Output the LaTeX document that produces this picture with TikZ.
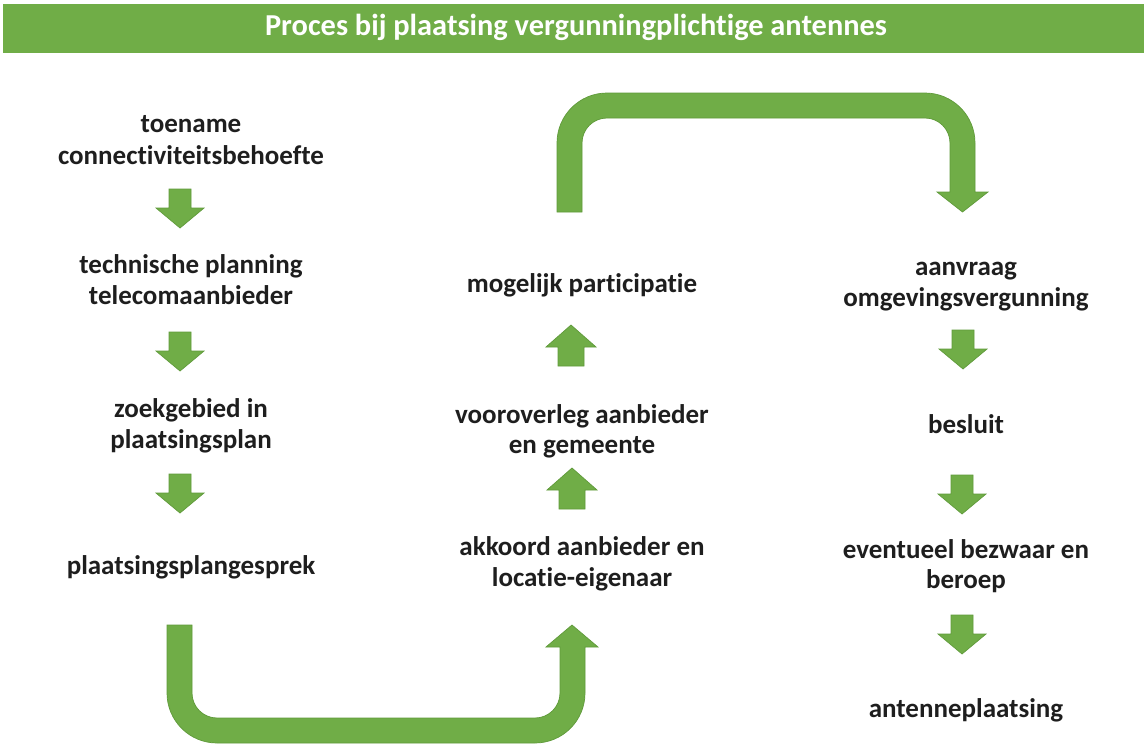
\documentclass[tikz,border=0pt]{standalone}
\usepackage{fontspec}
\setmainfont{Carlito}[Ligatures={NoCommon,NoRare}]
\definecolor{grn}{HTML}{70AD47}
\definecolor{grnedge}{HTML}{5F9A3A}
\definecolor{txt}{HTML}{1E1E1E}
\begin{document}
\begin{tikzpicture}[x=1pt,y=-1pt,
  lbl/.style={anchor=base, inner sep=0pt, font=\bfseries\fontsize{27}{32}\selectfont, text=txt},
  blk/.style={fill=grn, draw=grnedge, line width=0.7pt, line join=miter},
  dnarrow/.pic={\path[blk] (-11,0) -- (11,0) -- (11,19) -- (24,19) -- (0,39) -- (-24,19) -- (-11,19) -- cycle;},
  uparrow/.pic={\path[blk] (0,0) -- (25,22) -- (13,22) -- (13,41) -- (-13,41) -- (-13,22) -- (-25,22) -- cycle;}
]
\useasboundingbox (0,0) rectangle (1144,744);
\fill[white] (0,0) rectangle (1144,744);

% title bar
\fill[grn] (3,4) rectangle (1144,53);
\node[anchor=base, inner sep=0pt, text=white, font=\bfseries\fontsize{30.4}{34}\selectfont] (title) at (576,35) {Proces bij plaatsing vergunningplichtige antennes};

% column 1
\node[lbl] (c1a) at (191,132) {toename};
\node[lbl] (c1b) at (191,164) {connectiviteitsbehoefte};
\node[lbl] (c2a) at (191,273) {technische planning};
\node[lbl] (c2b) at (191,304) {telecomaanbieder};
\node[lbl] (c3a) at (191,417) {zoekgebied in};
\node[lbl] (c3b) at (191,448) {plaatsingsplan};
\node[lbl] (c4a) at (191,574) {plaatsingsplangesprek};
\pic at (180,189) {dnarrow};
\pic at (180,332) {dnarrow};
\pic at (180,474) {dnarrow};

% column 2
\node[lbl] (m1a) at (582,292) {mogelijk participatie};
\node[lbl] (m2a) at (582,423) {vooroverleg aanbieder};
\node[lbl] (m2b) at (582,453) {en gemeente};
\node[lbl] (m3a) at (582,555) {akkoord aanbieder en};
\node[lbl] (m3b) at (582,586) {locatie-eigenaar};
\pic at (571,325) {uparrow};
\pic at (572,468) {uparrow};

% column 3
\node[lbl] (r1a) at (966,275) {aanvraag};
\node[lbl] (r1b) at (966,306) {omgevingsvergunning};
\node[lbl] (r2a) at (966,433) {besluit};
\node[lbl] (r3a) at (966,558) {eventueel bezwaar en};
\node[lbl] (r3b) at (966,588) {beroep};
\node[lbl] (r4a) at (966,717) {antenneplaatsing};
\pic at (963,330) {dnarrow};
\pic at (962,475) {dnarrow};
\pic at (962,615) {dnarrow};

% big U arrow (bottom)
\path[blk] (167,625) -- (167,693) arc[start angle=180,end angle=90,radius=50]
  -- (535,743) arc[start angle=90,end angle=0,radius=50]
  -- (585,647) -- (598,647) -- (572,625) -- (546,647) -- (560,647)
  -- (560,693) arc[start angle=0,end angle=90,radius=25]
  -- (217,718) arc[start angle=90,end angle=180,radius=25]
  -- (192,625) -- cycle;

% big arch arrow (top)
\path[blk] (557,212) -- (557,143) arc[start angle=180,end angle=270,radius=50]
  -- (925,93) arc[start angle=270,end angle=360,radius=50]
  -- (975,192) -- (988,192) -- (962.5,212) -- (937,192) -- (950,192)
  -- (950,143) arc[start angle=0,end angle=-90,radius=25]
  -- (607,118) arc[start angle=270,end angle=180,radius=25]
  -- (582,212) -- cycle;
\end{tikzpicture}
\end{document}
